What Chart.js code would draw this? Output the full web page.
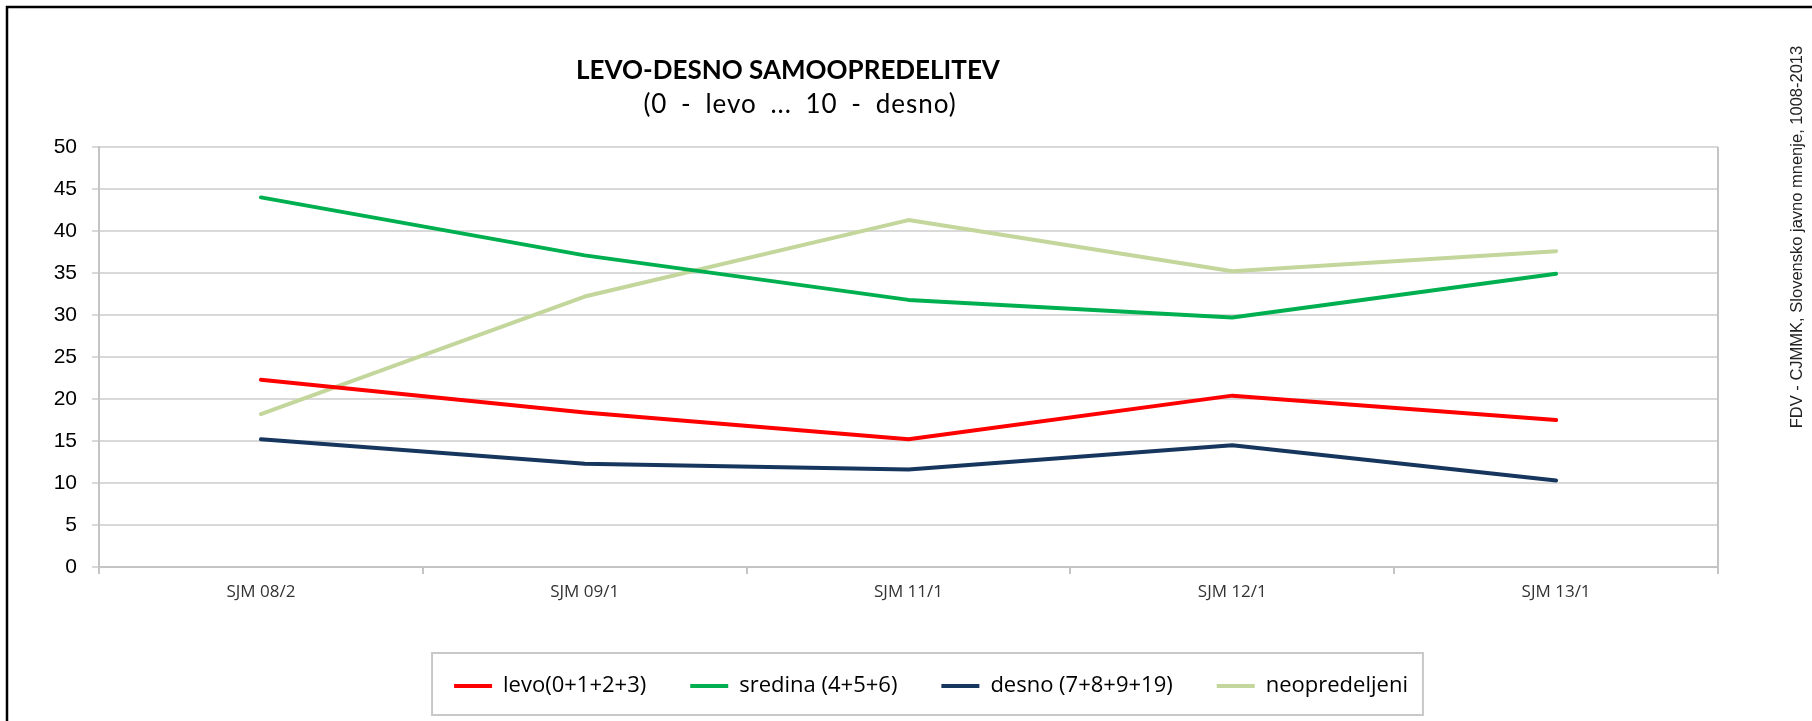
<!DOCTYPE html>
<html><head><meta charset="utf-8">
<script src="https://cdn.jsdelivr.net/npm/chart.js@4.4.1/dist/chart.umd.min.js"></script>
<style>html,body{margin:0;padding:0;background:#fff;}#wrap{width:1812px;height:721px;position:relative;}</style>
</head><body><div id="wrap"><canvas id="c" width="1812" height="721"></canvas></div>
<script>
const categories = ['SJM 08/2', 'SJM 09/1', 'SJM 11/1', 'SJM 12/1', 'SJM 13/1'];
const levo = [22.3, 18.4, 15.2, 20.4, 17.5];
const sredina = [44.0, 37.1, 31.8, 29.7, 34.9];
const desno = [15.2, 12.3, 11.6, 14.5, 10.3];
const neopredeljeni = [18.2, 32.2, 41.3, 35.2, 37.6];
const seriesNames = ['levo(0+1+2+3)', 'sredina (4+5+6)', 'desno (7+8+9+19)', 'neopredeljeni'];
const seriesColors = ['#FF0000', '#00B050', '#17365D', '#C3D69B'];
const yMin = 0, yMax = 50, yStep = 5;
const titleText = 'LEVO-DESNO SAMOOPREDELITEV';
const subtitleText = '(0 - levo ... 10 - desno)';
const sourceText = 'FDV - CJMMK, Slovensko javno mnenje, 1008-2013';

const seriesValues = [levo, sredina, desno, neopredeljeni];
const datasets = seriesValues.map((vals, i) => ({
  label: seriesNames[i],
  data: vals,
  borderColor: seriesColors[i],
  backgroundColor: seriesColors[i],
  borderWidth: 4,
  pointRadius: 0,
  pointHoverRadius: 0,
  pointStyle: 'line',
  tension: 0,
  borderCapStyle: 'round',
  borderJoinStyle: 'round',
  fill: false
}));

const LEG_CX = 931, LEG_ITEM_CY = 686, LEG_PAD = 44, LEG_FONT = 22, LEG_LINE = 38;
const PLOT_BOTTOM = 567, X_AXIS_H = 71;
const PAD_BOTTOM = 721 - PLOT_BOTTOM - X_AXIS_H - (LEG_FONT + LEG_PAD + 10);

const decor = {
  id: 'decor',
  afterLayout(chart) {
    const lg = chart.legend;
    if (!lg) return;
    const dx = LEG_CX - (lg.left + lg.right) / 2;
    lg.left += dx; lg.right += dx;
    const targetTop = LEG_ITEM_CY - LEG_PAD - LEG_FONT / 2;
    const dy = targetTop - lg.top;
    lg.top += dy; lg.bottom += dy;
  },
  beforeDraw(chart) {
    const ctx = chart.ctx;
    ctx.save();
    ctx.fillStyle = '#fff';
    ctx.fillRect(0, 0, chart.width, chart.height);
    ctx.strokeStyle = '#000';
    ctx.lineWidth = 2.5;
    ctx.strokeRect(7, 7, 2000, 1000);
    ctx.restore();
  },
  beforeDatasetsDraw(chart) {
    const ctx = chart.ctx, a = chart.chartArea;
    ctx.save();
    ctx.strokeStyle = '#c4c4c4';
    ctx.lineWidth = 2;
    ctx.beginPath();
    ctx.moveTo(a.right, a.top); ctx.lineTo(a.right, a.bottom + 7);
    ctx.stroke();
    ctx.restore();
  },
  afterDraw(chart) {
    const ctx = chart.ctx;
    ctx.save();
    ctx.fillStyle = '#000';
    ctx.textAlign = 'center';
    ctx.textBaseline = 'middle';
    ctx.font = 'bold 26px Lato';
    ctx.fillText(titleText, 788, 71);
    ctx.font = '26px Lato';
    ctx.letterSpacing = '1px';
    ctx.wordSpacing = '6px';
    ctx.fillText(subtitleText, 800, 105);
    ctx.letterSpacing = '0px';
    ctx.wordSpacing = '0px';
    ctx.save();
    ctx.translate(1797, 237);
    ctx.rotate(-Math.PI / 2);
    ctx.font = '16.5px "Liberation Sans"';
    ctx.fillStyle = '#222';
    ctx.fillText(sourceText, 0, 0);
    ctx.restore();
    // legend frame
    const lg = chart.legend;
    if (lg && lg.lineWidths) {
      const w = lg.lineWidths[0] - LEG_PAD;
      const x0 = LEG_CX - w / 2;
      ctx.strokeStyle = '#c8c8c8';
      ctx.lineWidth = 2;
      ctx.strokeRect(x0 - 22, LEG_ITEM_CY - 33, w + 22 + 15, 62);
    }
    ctx.restore();
  }
};

new Chart(document.getElementById('c'), {
  type: 'line',
  data: { labels: categories, datasets },
  options: {
    responsive: false,
    animation: false,
    devicePixelRatio: 1,
    layout: { padding: { left: 0, right: 94, top: 147, bottom: PAD_BOTTOM } },
    plugins: {
      title: { display: false },
      tooltip: { enabled: false },
      legend: {
        display: true,
        position: 'bottom',
        labels: {
          usePointStyle: true,
          pointStyle: 'line',
          pointStyleWidth: LEG_LINE,
          padding: LEG_PAD,
          color: '#000',
          font: { family: 'Open Sans', size: LEG_FONT }
        }
      }
    },
    scales: {
      x: {
        type: 'category',
        offset: true,
        afterFit: s => { s.height = X_AXIS_H; },
        grid: { drawOnChartArea: false, offset: true, tickLength: 7, color: '#c4c4c4', lineWidth: 2 },
        border: { display: true, color: '#c4c4c4', width: 2 },
        ticks: { color: '#333', padding: 8, font: { family: 'Open Sans', size: 17 } }
      },
      y: {
        min: yMin, max: yMax,
        afterFit: s => { s.width = 99; },
        ticks: { stepSize: yStep, color: '#000', padding: 15, font: { family: 'Liberation Sans', size: 21 } },
        grid: { color: '#d9d9d9', lineWidth: 2, tickLength: 7 },
        border: { display: true, color: '#c4c4c4', width: 2 }
      }
    }
  },
  plugins: [decor]
});
</script></body></html>
